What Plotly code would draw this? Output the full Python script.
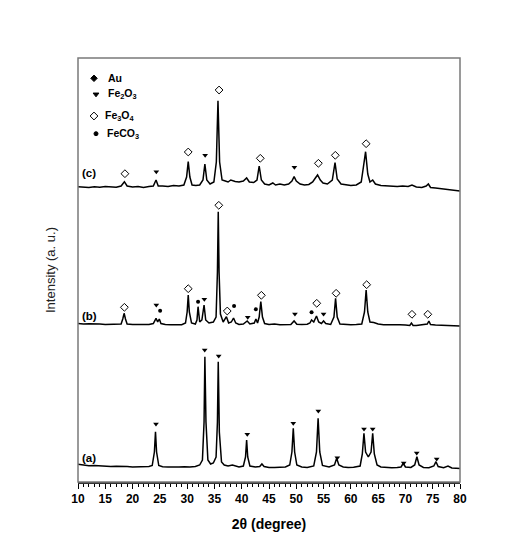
import plotly.graph_objects as go

# ---------------- data (2theta in degrees, intensity in arbitrary units) ----------------
a_x = [10.0, 11.0, 12.0, 13.0, 14.0, 15.0, 16.0, 17.0, 18.0, 19.0, 20.0, 21.0, 22.0, 23.0, 23.6, 24.0, 24.2, 24.4, 24.8,
       25.5, 26.5, 27.5, 28.5, 29.5, 30.5, 31.5, 32.3, 32.8, 33.1, 33.25, 33.45, 33.8, 34.3, 34.8, 35.3, 35.55, 35.7,
       35.9, 36.3, 36.8, 37.5, 38.3, 38.8, 39.5, 40.3, 40.7, 40.9, 41.1, 41.5, 42.5, 43.3, 43.7, 44.1, 45.0, 46.0, 47.0,
       48.0, 48.8, 49.2, 49.45, 49.7, 50.1, 51.0, 52.0, 53.2, 53.7, 54.0, 54.3, 54.8, 56.0, 57.0, 57.4, 57.8, 58.6, 59.5,
       60.5, 61.7, 62.1, 62.4, 62.7, 63.2, 63.7, 64.0, 64.3, 64.8, 65.5, 66.5, 67.5, 68.5, 69.2, 69.6, 70.0, 71.0, 71.7,
       72.1, 72.5, 73.3, 74.3, 75.2, 75.6, 76.0, 77.0, 77.8, 78.5, 79.3, 80.0]
a_y = [17.7, 17.0, 16.3, 16.5, 16.0, 15.8, 15.5, 15.7, 15.2, 15.4, 15.0, 15.3, 15.0, 15.5, 16.5, 30, 50.3, 30, 16.5,
       15.3, 15.0, 14.8, 15.0, 15.2, 15.0, 15.6, 17.0, 22, 60, 125.3, 60, 22, 18, 19, 25, 60, 120.3,
       50, 20, 17, 16, 17, 16, 15, 16, 25, 42, 25, 16, 15, 15.5, 18, 15.5, 14.5, 14.5, 14.8,
       15, 17, 30, 53.7, 30, 17, 15, 14.5, 16, 30, 63.7, 30, 16.5, 15, 17, 23.7, 17, 15, 14.5,
       14.7, 16, 28, 48.7, 30, 25, 30, 48.7, 28, 17, 15, 14.5, 14.3, 14.5, 15, 18.7, 15, 14.5, 17,
       25.3, 17, 14.5, 14.2, 16, 20.3, 15.5, 14.2, 16, 14, 13.7, 13.5]

b_x = [10, 11, 12, 13, 14, 15, 16, 17, 17.9, 18.2, 18.45, 18.7, 19.0, 20, 21, 22, 23, 23.8, 24.3, 24.6, 24.9, 25.2,
       26, 27, 28, 29, 29.7, 30.0, 30.2, 30.4, 30.8, 31.5, 31.8, 32.0, 32.3, 32.7, 33.1, 33.4, 34.0, 34.8, 35.3,
       35.55, 35.7, 35.85, 36.1, 36.6, 37.2, 37.6, 38.1, 38.5, 38.9, 39.5, 40.3, 41.0, 41.5, 42.3, 42.6, 42.9, 43.2,
       43.5, 43.8, 44.2, 45, 46, 47, 48, 49, 49.6, 50.1, 51, 52, 52.5, 52.8, 53.2, 53.7, 54.1, 54.6, 55.0, 55.4, 56.3,
       56.9, 57.2, 57.5, 58, 59, 60, 61, 62, 62.5, 62.8, 63.1, 63.5, 64.2, 65, 66, 67, 68, 69, 70, 70.8, 71.1, 71.4,
       72, 73, 74.0, 74.3, 74.6, 75.5, 76.5, 77.5, 78.5, 79.3, 80]
b_y = [158.5, 158, 158.3, 157.8, 158, 157.6, 157.8, 157.5, 158, 163, 168.7, 163, 158, 157.5, 157.3, 157.6, 157.5, 158.5,
       163.7, 160, 163, 158.5, 157.5, 157.2, 157.5, 157.3, 159, 170, 187, 170, 159, 158, 162, 175.3, 160, 162, 177,
       162, 159, 160, 165, 210, 270.3, 210, 168, 160, 165.3, 159, 160, 164, 159, 157.5, 158, 161, 158, 159, 163, 159,
       165, 180.3, 165, 158.5, 157.5, 158, 157.3, 157.5, 157.4, 161, 157.8, 157.5, 157.8, 159, 162, 160, 166, 160,
       158.5, 161, 158.5, 157.5, 165, 183.7, 165, 158, 157.5, 157.3, 157.5, 158, 170, 192, 170, 160, 159.5, 158,
       157.3, 157.5, 157, 157.2, 157, 156.5, 159, 156.5, 156.5, 157, 158, 161, 157.5, 157, 156.8, 156.5, 156.3,
       156.5, 156]

c_x = [10, 11, 12, 13, 14, 15, 16, 17, 17.9, 18.5, 19.0, 20, 21, 22, 23, 23.8, 24.3, 24.7, 25.5, 26.5, 27.5, 28.5,
       29.4, 29.9, 30.2, 30.5, 30.9, 31.6, 32.3, 32.9, 33.25, 33.6, 34.2, 34.9, 35.35, 35.65, 35.95, 36.4, 37, 37.5,
       38, 38.8, 39.5, 40.3, 40.9, 41.4, 42.2, 42.8, 43.2, 43.6, 44.2, 45, 45.7, 46.2, 47, 47.8, 48.6, 49.2, 49.6, 50,
       50.7, 51.5, 52.3, 53.0, 53.5, 53.9, 54.4, 54.9, 55.7, 56.6, 57.1, 57.5, 58.2, 59, 60, 61, 61.9, 62.3, 62.7,
       63.1, 63.5, 64.0, 64.5, 65.5, 66.5, 67.5, 68.5, 69.5, 70.5, 71.2, 72, 73, 73.8, 74.2, 74.6, 75.5, 76.5, 77.5,
       78.5, 79.3, 80]
c_y = [295.3, 295, 294.5, 295.2, 294.8, 295.5, 295, 294.7, 296, 300.3, 296, 295, 295.5, 294.5, 295.5, 296, 302, 296,
       296, 295.5, 296.5, 296, 297, 305, 320.3, 305, 297, 296.5, 297, 302, 318, 302, 298, 300, 320, 381.3, 320, 302,
       301, 300, 302, 300.5, 300, 301, 304, 300, 299.5, 302, 316, 302, 298, 297, 299, 297, 298, 297, 298, 301, 305.3,
       301, 298, 297, 297.5, 300, 304, 307, 302, 299, 298, 302, 319.3, 303, 298, 297, 296.5, 297, 300, 315, 330.3,
       308, 300, 302, 298, 296.5, 296, 296, 295.5, 296, 295.5, 297, 295, 294.5, 296, 298, 294.5, 294, 293.5, 293,
       292.5, 292, 291]

# phase markers: (2theta, height)
fe2o3_x = [24.29, 33.22, 35.78, 41.02, 49.45, 54.04, 57.52, 62.41, 64.0, 69.68, 72.07, 75.73,
           24.35, 33.15, 41.1, 49.75, 55.0,
           24.35, 33.3, 49.65]
fe2o3_y = [58, 132, 126, 47.7, 58.7, 71, 24.3, 53, 53, 19, 29, 23,
           177, 182.7, 164.7, 168, 168,
           310.3, 326.7, 314.7]
fe3o4_x = [18.5, 30.2, 35.8, 37.35, 43.6, 53.75, 57.3, 62.9, 71.2, 74.1,
           18.6, 30.2, 35.85, 43.4, 54.05, 57.15, 62.8]
fe3o4_y = [174.7, 193.3, 276.7, 171, 186.7, 178.7, 188.7, 197.3, 167.7, 167.7,
           308.3, 330, 392, 323.7, 318.7, 326.7, 338.3]
feco3_x = [25.05, 32.0, 38.6, 42.6, 52.8]
feco3_y = [171.3, 180.3, 176, 172.7, 169.7]

legend_labels = ["Au", "Fe<sub>2</sub>O<sub>3</sub>", "Fe<sub>3</sub>O<sub>4</sub>", "FeCO<sub>3</sub>"]
legend_symbols = ["diamond", "triangle-down", "diamond-open", "circle"]
legend_sym_x = [12.93, 13.3, 12.93, 13.3]
legend_text_x = [15.04, 15.13, 14.57, 14.97]
legend_y = [403.7, 387.7, 366, 348.3]
legend_sizes = [5, 5, 6, 4]

sample_labels = ["(a)", "(b)", "(c)"]
sample_label_y = [24, 166, 309]

xticks = list(range(10, 81, 5))

FONT = "Liberation Sans, Arial, sans-serif"

fig = go.Figure()
for xs, ys in [(a_x, a_y), (b_x, b_y), (c_x, c_y)]:
    fig.add_trace(go.Scatter(x=xs, y=ys, mode="lines", line=dict(color="black", width=1.5),
                             hoverinfo="skip", showlegend=False))

fig.add_trace(go.Scatter(x=fe2o3_x, y=fe2o3_y, mode="markers",
                         marker=dict(symbol="triangle-down", size=5, color="black"), showlegend=False))
fig.add_trace(go.Scatter(x=fe3o4_x, y=fe3o4_y, mode="markers",
                         marker=dict(symbol="diamond-open", size=6, color="black", line=dict(width=1)),
                         showlegend=False))
fig.add_trace(go.Scatter(x=feco3_x, y=feco3_y, mode="markers",
                         marker=dict(symbol="circle", size=4, color="black"), showlegend=False))

# in-plot legend
for sym, sx, tx, ly, sz, lab in zip(legend_symbols, legend_sym_x, legend_text_x, legend_y, legend_sizes, legend_labels):
    fig.add_trace(go.Scatter(x=[sx], y=[ly], mode="markers",
                             marker=dict(symbol=sym, size=sz, color="black", line=dict(width=1, color="black")),
                             showlegend=False))
    fig.add_annotation(x=tx, y=ly, text=lab, showarrow=False, xanchor="left", yanchor="middle",
                       font=dict(family=FONT, size=10.5, color="black", weight="bold"))

for lab, ly in zip(sample_labels, sample_label_y):
    fig.add_annotation(x=10.3, y=ly, text=lab, showarrow=False, xanchor="left", yanchor="middle",
                       font=dict(family=FONT, size=11.5, color="black", weight="bold"))

# frame
fig.add_shape(type="rect", xref="paper", yref="paper", x0=0, y0=0, x1=1, y1=1,
              line=dict(color="#7a7a7a", width=1.5), layer="above")

fig.update_layout(
    width=510, height=549,
    margin=dict(l=78, r=50, t=58, b=67),
    paper_bgcolor="white", plot_bgcolor="white",
    showlegend=False,
    xaxis=dict(range=[10, 80], tickvals=xticks, ticktext=[str(v) for v in xticks],
               ticks="outside", ticklen=5, tickwidth=1, tickcolor="black",
               minor=dict(dtick=1, ticks="outside", ticklen=3, tickcolor="black", tickwidth=1),
               showline=True, linecolor="#333333", linewidth=1.5, showgrid=False, zeroline=False,
               tickfont=dict(family=FONT, size=12, color="black", weight="bold"),
               title=dict(text="2θ (degree)", standoff=14,
                          font=dict(family=FONT, size=14, color="black", weight="bold"))),
    yaxis=dict(range=[0, 424], showticklabels=False, ticks="", showgrid=False, zeroline=False,
               showline=False,
               title=dict(text="Intensity (a. u.)", standoff=18,
                          font=dict(family=FONT, size=13, color="#222222"))),
)

fig.write_html("out.html")
